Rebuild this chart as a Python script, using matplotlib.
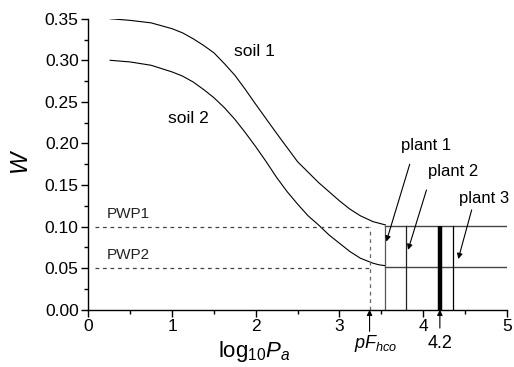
import numpy as np
import matplotlib
matplotlib.use("Agg")
import matplotlib.pyplot as plt

plt.rcParams['font.family'] = ['Liberation Sans', 'DejaVu Sans']
plt.rcParams['mathtext.fontset'] = 'custom'
plt.rcParams['mathtext.rm'] = 'Liberation Sans'
plt.rcParams['mathtext.it'] = 'Liberation Sans:italic'

# water retention curves
soil1_x = [0.26, 0.50, 0.75, 1.00, 1.125, 1.25, 1.375, 1.50, 1.625, 1.75, 1.875,
           2.00, 2.25, 2.50, 2.75, 3.00, 3.125, 3.25, 3.40, 3.475, 3.55]
soil1_w = [0.350, 0.348, 0.345, 0.338, 0.333, 0.326, 0.318, 0.309, 0.296, 0.282, 0.265,
           0.247, 0.212, 0.178, 0.153, 0.131, 0.121, 0.113, 0.106, 0.104, 0.102]
soil2_x = [0.26, 0.50, 0.75, 1.00, 1.125, 1.25, 1.375, 1.50, 1.625, 1.75, 1.875,
           2.00, 2.125, 2.25, 2.375, 2.50, 2.625, 2.75, 2.875, 3.00, 3.125, 3.25,
           3.40, 3.475, 3.55]
soil2_w = [0.300, 0.298, 0.294, 0.286, 0.281, 0.274, 0.265, 0.255, 0.243, 0.229, 0.213,
           0.196, 0.178, 0.159, 0.142, 0.127, 0.113, 0.102, 0.090, 0.080, 0.070, 0.062,
           0.056, 0.054, 0.053]

pwp = [0.10, 0.05]
pwp_labels = ["PWP1", "PWP2"]
flat_w = [0.101, 0.052]
pf_hco = 3.36
plant_x = [3.55, 3.79, 4.36]
plant_labels = ["plant 1", "plant 2", "plant 3"]
thick_x = 4.2

fig = plt.figure(figsize=(5.14, 3.67), dpi=100)
ax = fig.add_axes([0.172, 0.156, 0.814, 0.793])

ax.plot(soil1_x, soil1_w, color='k', lw=0.8)
ax.plot(soil2_x, soil2_w, color='k', lw=0.8)
for w in flat_w:
    ax.plot([soil1_x[-1], 5], [w, w], color='#444444', lw=1.0)

# PWP dashed guides
for w, lab in zip(pwp, pwp_labels):
    ax.plot([0.08, pf_hco], [w, w], color='#444444', lw=0.9, ls=(0, (3, 3)))
    ax.text(0.22, w + 0.007, lab, fontsize=11, ha='left', va='bottom', color='#222222')
ax.plot([pf_hco, pf_hco], [0, pwp[0]], color='#666666', lw=0.9, ls=(0, (3, 3)))

# plant wilting lines
for px, c in zip(plant_x, ['#555555', '#222222', '#000000']):
    ax.plot([px, px], [0, flat_w[0]], color=c, lw=0.9)
ax.plot([thick_x, thick_x], [0, flat_w[0]], color='k', lw=3.2, solid_capstyle='butt')

# plant labels with arrows
label_xy = [(4.03, 0.198), (4.36, 0.166), (4.73, 0.134)]
arrow_from = [(3.84, 0.175), (4.04, 0.144), (4.58, 0.120)]
arrow_to = [(3.56, 0.082), (3.82, 0.072), (4.42, 0.061)]
for lab, lxy, a0, a1 in zip(plant_labels, label_xy, arrow_from, arrow_to):
    ax.text(lxy[0], lxy[1], lab, fontsize=12, ha='center', va='center')
    ax.annotate('', xy=a1, xytext=a0,
                arrowprops=dict(arrowstyle='-|>', color='k', lw=0.8,
                                mutation_scale=8, shrinkA=0, shrinkB=0))

ax.text(1.99, 0.310, "soil 1", fontsize=12.5, ha='center', va='center')
ax.text(1.20, 0.230, "soil 2", fontsize=12.5, ha='center', va='center')

ax.set_xlim(0, 5)
ax.set_ylim(0, 0.35)
ax.set_xticks([0, 1, 2, 3, 4, 5])
ax.set_xticks(np.arange(0.5, 5, 1), minor=True)
ax.set_yticks(np.arange(0, 0.36, 0.05))
ax.set_yticks(np.arange(0.025, 0.35, 0.05), minor=True)
ax.set_yticklabels(["%.2f" % v for v in np.arange(0, 0.36, 0.05)])
ax.tick_params(which='major', direction='out', length=5, width=1, labelsize=12.5, pad=2)
ax.tick_params(which='minor', direction='out', length=3, width=1)
for s in ['top', 'right']:
    ax.spines[s].set_visible(False)
for s in ['left', 'bottom']:
    ax.spines[s].set_linewidth(1.0)

ax.set_ylabel("W", fontsize=17, style='italic', va='center')
ax.yaxis.set_label_coords(-0.166, 0.51)
ax.set_xlabel(r"$\mathregular{log_{10}}\mathit{P_a}$", fontsize=16)
ax.xaxis.set_label_coords(0.396, -0.10)

# arrows below the axis
for xv, y0 in [(pf_hco, -0.026), (thick_x, -0.022)]:
    ax.annotate('', xy=(xv, 0), xytext=(xv, y0), annotation_clip=False,
                arrowprops=dict(arrowstyle='-|>', color='k', lw=0.8,
                                mutation_scale=8, shrinkA=0, shrinkB=0))
ax.text(pf_hco + 0.07, -0.041, r"$\mathit{pF_{hco}}$", fontsize=13, ha='center', va='center')
ax.text(thick_x, -0.040, "4.2", fontsize=13, ha='center', va='center')

fig.savefig("out.png", dpi=100)
